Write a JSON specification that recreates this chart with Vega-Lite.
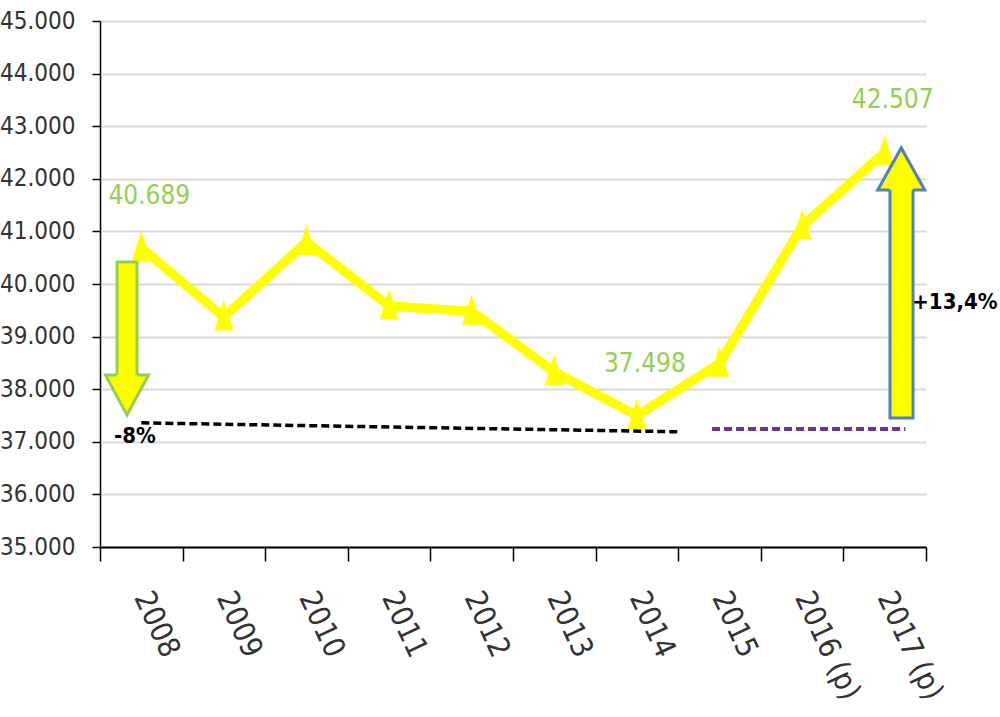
{
  "$schema": "https://vega.github.io/schema/vega-lite/v6.json",
  "width": 826,
  "height": 526,
  "autosize": "none",
  "padding": {"left": 100, "top": 21, "right": 74, "bottom": 170},
  "background": "white",
  "config": {
    "view": {"stroke": null},
    "locale": {"number": {"decimal": ",", "thousands": ".", "grouping": [3], "currency": ["", " €"]}}
  },
  "datasets": {
    "main": [
      {"year": 2008, "value": 40689},
      {"year": 2009, "value": 39370},
      {"year": 2010, "value": 40800},
      {"year": 2011, "value": 39580},
      {"year": 2012, "value": 39480},
      {"year": 2013, "value": 38330},
      {"year": 2014, "value": 37498},
      {"year": 2015, "value": 38490},
      {"year": 2016, "value": 41100},
      {"year": 2017, "value": 42507}
    ],
    "dashes": [
      {"kind": "black", "x1": 2008.0, "x2": 2014.52, "y1": 37360, "y2": 37190},
      {"kind": "purple", "x1": 2014.91, "x2": 2017.25, "y1": 37243, "y2": 37243}
    ],
    "shafts": [
      {"arrow": "down", "x1": 2007.706, "x2": 2007.948, "y1": 40418, "y2": 38150},
      {"arrow": "up", "x1": 2017.064, "x2": 2017.343, "y1": 37452, "y2": 41900}
    ],
    "heads": [
      {"arrow": "down", "x": 2007.827, "y": 38270},
      {"arrow": "up", "x": 2017.2, "y": 41787}
    ],
    "notes": [
      {"label": "-8%", "x": 2007.924, "y": 37110},
      {"label": "+13,4%", "x": 2017.85, "y": 39658}
    ]
  },
  "resolve": {"axis": {"x": "independent"}},
  "layer": [
    {
      "data": {"name": "main"},
      "mark": {"type": "line", "color": "#FFFF00", "strokeWidth": 9},
      "encoding": {
        "x": {
          "field": "year", "type": "quantitative",
          "scale": {"domain": [2007.5, 2017.5], "nice": false, "zero": false},
          "axis": {
            "orient": "bottom",
            "title": null,
            "values": [2008, 2009, 2010, 2011, 2012, 2013, 2014, 2015, 2016, 2017],
            "format": "d",
            "labelExpr": "datum.value >= 2016 ? datum.label + ' (p)' : datum.label",
            "grid": false,
            "domain": false,
            "ticks": false,
            "labelAngle": 65,
            "labelAlign": "left",
            "labelBaseline": "middle",
            "labelPadding": 46,
            "labelFont": "DejaVu Sans Condensed, Liberation Sans, sans-serif",
            "labelFontSize": 30,
            "labelColor": "#333333",
            "labelOverlap": false,
            "labelFlush": false,
            "labelLimit": 400
          }
        },
        "y": {
          "field": "value", "type": "quantitative",
          "scale": {"domain": [35000, 45000], "nice": false, "zero": false},
          "axis": {
            "title": null,
            "values": [35000, 36000, 37000, 38000, 39000, 40000, 41000, 42000, 43000, 44000, 45000],
            "format": ",d",
            "grid": true,
            "gridColor": "#D9D9D9",
            "gridWidth": 2,
            "domainColor": "#000000",
            "domainWidth": 1.5,
            "tickColor": "#000000",
            "tickWidth": 1.5,
            "tickSize": 8,
            "labelPadding": 17,
            "labelFont": "DejaVu Sans Condensed, Liberation Sans, sans-serif",
            "labelFontSize": 24,
            "labelColor": "#333333"
          }
        }
      }
    },
    {
      "data": {"name": "dashes"},
      "transform": [{"filter": "datum.kind === 'black'"}],
      "mark": {"type": "rule", "color": "#000000", "strokeWidth": 3.5, "strokeDash": [8, 4]},
      "encoding": {
        "x": {
          "field": "x1", "type": "quantitative",
          "axis": {
            "orient": "bottom",
            "title": null,
            "values": [2007.5, 2008.5, 2009.5, 2010.5, 2011.5, 2012.5, 2013.5, 2014.5, 2015.5, 2016.5, 2017.5],
            "labels": false,
            "grid": false,
            "domain": true,
            "domainColor": "#000000",
            "domainWidth": 2,
            "ticks": true,
            "tickColor": "#000000",
            "tickWidth": 1.5,
            "tickSize": 14
          }
        },
        "x2": {"field": "x2"},
        "y": {"field": "y1", "type": "quantitative"},
        "y2": {"field": "y2"}
      }
    },
    {
      "data": {"name": "dashes"},
      "transform": [{"filter": "datum.kind === 'purple'"}],
      "mark": {"type": "rule", "color": "#7030A0", "strokeWidth": 4, "strokeDash": [8, 4]},
      "encoding": {
        "x": {"field": "x1", "type": "quantitative", "axis": null},
        "x2": {"field": "x2"},
        "y": {"field": "y1", "type": "quantitative"},
        "y2": {"field": "y2"}
      }
    },
    {
      "data": {"name": "main"},
      "mark": {"type": "line", "color": "#FFFF00", "strokeWidth": 9},
      "encoding": {
        "x": {"field": "year", "type": "quantitative", "axis": null},
        "y": {"field": "value", "type": "quantitative"}
      }
    },
    {
      "data": {"name": "main"},
      "mark": {"type": "point", "filled": true, "color": "#FFFF00", "opacity": 1, "size": 361, "shape": "M-1,1.4L1,1.4L0,-1.8Z"},
      "encoding": {
        "x": {"field": "year", "type": "quantitative", "axis": null},
        "y": {"field": "value", "type": "quantitative"}
      }
    },
    {
      "data": {"name": "main"},
      "transform": [{"filter": "datum.year === 2008 || datum.year === 2014 || datum.year === 2017"}],
      "mark": {"type": "text", "color": "#92D050", "font": "DejaVu Sans Condensed, Liberation Sans, sans-serif", "fontSize": 26, "dx": 8, "dy": -52, "align": "center", "baseline": "middle"},
      "encoding": {
        "x": {"field": "year", "type": "quantitative", "axis": null},
        "y": {"field": "value", "type": "quantitative"},
        "text": {"field": "value", "type": "quantitative", "format": ",d"}
      }
    },
    {
      "data": {"name": "shafts"},
      "transform": [{"filter": "datum.arrow === 'down'"}],
      "mark": {"type": "rect", "fill": "#FFFF00", "stroke": "#92D050", "strokeWidth": 3},
      "encoding": {
        "x": {"field": "x1", "type": "quantitative", "axis": null},
        "x2": {"field": "x2"},
        "y": {"field": "y1", "type": "quantitative"},
        "y2": {"field": "y2"}
      }
    },
    {
      "data": {"name": "heads"},
      "transform": [{"filter": "datum.arrow === 'down'"}],
      "mark": {"type": "point", "filled": true, "fill": "#FFFF00", "stroke": "#92D050", "strokeWidth": 3, "opacity": 1, "size": 1849, "shape": "M-0.465,0L-1,0L0,1.86L1,0L0.465,0"},
      "encoding": {
        "x": {"field": "x", "type": "quantitative", "axis": null},
        "y": {"field": "y", "type": "quantitative"}
      }
    },
    {
      "data": {"name": "shafts"},
      "transform": [{"filter": "datum.arrow === 'up'"}],
      "mark": {"type": "rect", "fill": "#FFFF00", "stroke": "#4F81BD", "strokeWidth": 3},
      "encoding": {
        "x": {"field": "x1", "type": "quantitative", "axis": null},
        "x2": {"field": "x2"},
        "y": {"field": "y1", "type": "quantitative"},
        "y2": {"field": "y2"}
      }
    },
    {
      "data": {"name": "heads"},
      "transform": [{"filter": "datum.arrow === 'up'"}],
      "mark": {"type": "point", "filled": true, "fill": "#FFFF00", "stroke": "#4F81BD", "strokeWidth": 3, "opacity": 1, "size": 2209, "shape": "M-0.49,0L-1,0L0,-1.79L1,0L0.49,0"},
      "encoding": {
        "x": {"field": "x", "type": "quantitative", "axis": null},
        "y": {"field": "y", "type": "quantitative"}
      }
    },
    {
      "data": {"name": "notes"},
      "mark": {"type": "text", "color": "#000000", "font": "DejaVu Sans Condensed, Liberation Sans, sans-serif", "fontWeight": "bold", "fontSize": 22, "align": "center", "baseline": "middle"},
      "encoding": {
        "x": {"field": "x", "type": "quantitative", "axis": null},
        "y": {"field": "y", "type": "quantitative"},
        "text": {"field": "label", "type": "nominal"}
      }
    }
  ]
}
